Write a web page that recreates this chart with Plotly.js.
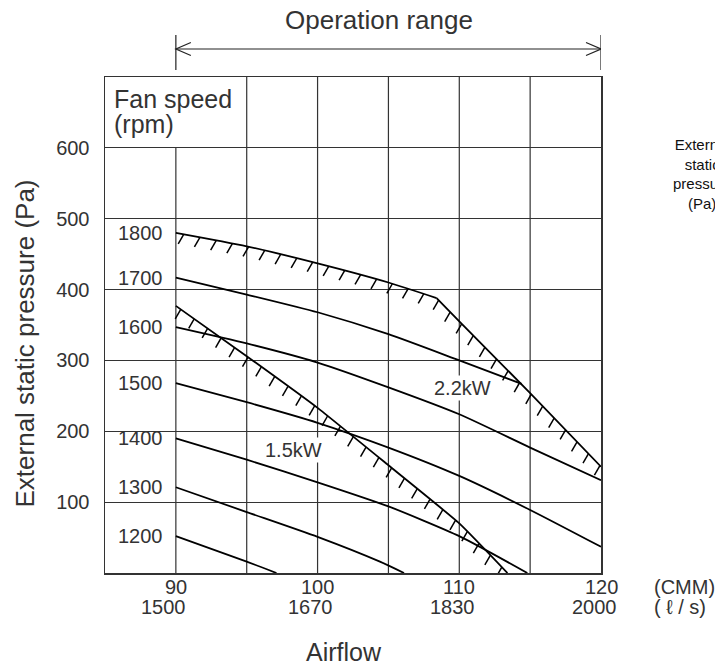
<!DOCTYPE html>
<html>
<head>
<meta charset="utf-8">
<script src="https://cdn.plot.ly/plotly-3.0.1.min.js"></script>
<style>html,body{margin:0;padding:0;background:#fff;}#chart{width:715px;height:666px;}</style>
</head>
<body>
<div id="chart"></div>
<script>
// ---- data ----
const airflowCMM = [90, 100, 110, 120];
const airflowLps = [1500, 1670, 1830, 2000];
const pressureTicks = [100, 200, 300, 400, 500, 600];
const gridAirflow = [90, 95, 100, 105, 110, 115];
const fanSpeeds = ['1800', '1700', '1600', '1500', '1400', '1300', '1200'];

const rpm1800X = [90, 95, 100, 105, 108.4];
const rpm1800Y = [480, 461, 437, 410, 388];
const rpm1700X = [90, 95, 100, 105, 110, 114.4];
const rpm1700Y = [417, 393, 368, 337, 300, 267];
const rpm1600X = [90, 95, 100, 105, 110, 115, 120];
const rpm1600Y = [347, 324, 297, 262, 224, 177, 131];
const rpm1500X = [90, 95, 100, 105, 110, 115, 120];
const rpm1500Y = [268, 241, 212, 177, 137, 89, 37];
const rpm1400X = [90, 95, 100, 105, 110, 114.8];
const rpm1400Y = [190, 160, 128, 94, 52, 0];
const rpm1300X = [90, 95, 100, 104.4, 106.1];
const rpm1300Y = [121, 86, 51, 16, 0];
const rpm1200X = [90, 95, 97.1];
const rpm1200Y = [52, 16, 0];

const limit22kWX = [108.4, 110, 115, 120];
const limit22kWY = [388, 355, 254, 150];
const limit15kWX = [90, 95, 100, 105, 110, 113.4];
const limit15kWY = [377, 306, 233, 152, 70, 0];

// ---- layout geometry ----
const FIG_W = 715, FIG_H = 666;
const M = {l: 105, r: 114, t: 77, b: 93};
const XR = [85, 120], YR = [0, 700];
const PW = FIG_W - M.l - M.r, PH = FIG_H - M.t - M.b;

function toPx(x, y) {
  return [M.l + (x - XR[0]) / (XR[1] - XR[0]) * PW,
          M.t + (1 - (y - YR[0]) / (YR[1] - YR[0])) * PH];
}
function toData(px, py) {
  return [XR[0] + (px - M.l) / PW * (XR[1] - XR[0]),
          YR[0] + (1 - (py - M.t) / PH) * (YR[1] - YR[0])];
}

// hatch marks along a polyline (screen space), pointing down-left
function hatch(xs, ys, spacing, len, start) {
  const pts = xs.map((x, i) => toPx(x, ys[i]));
  const dir = [-0.5, 0.866];
  const hx = [], hy = [];
  let next = start, acc = 0;
  for (let i = 0; i < pts.length - 1; i++) {
    const a = pts[i], b = pts[i + 1];
    const d = Math.hypot(b[0] - a[0], b[1] - a[1]);
    while (next <= acc + d) {
      const t = (next - acc) / d;
      const p = [a[0] + t * (b[0] - a[0]), a[1] + t * (b[1] - a[1])];
      const q = [p[0] + len * dir[0], p[1] + len * dir[1]];
      const pd = toData(p[0], p[1]), qd = toData(q[0], q[1]);
      hx.push(pd[0], qd[0], null);
      hy.push(pd[1], qd[1], null);
      next += spacing;
    }
    acc += d;
  }
  return {x: hx, y: hy};
}

const curves = [
  [rpm1800X, rpm1800Y], [rpm1700X, rpm1700Y], [rpm1600X, rpm1600Y],
  [rpm1500X, rpm1500Y], [rpm1400X, rpm1400Y], [rpm1300X, rpm1300Y], [rpm1200X, rpm1200Y]
];

const traces = [];
curves.forEach((c, i) => {
  traces.push({type: 'scatter', mode: 'lines', x: c[0], y: c[1], name: fanSpeeds[i] + ' rpm',
    line: {color: '#000', width: 1.8, shape: 'spline', smoothing: 0.6}, showlegend: false, hoverinfo: 'skip'});
});
traces.push({type: 'scatter', mode: 'lines', x: limit22kWX, y: limit22kWY, name: '2.2kW',
  line: {color: '#000', width: 1.8, shape: 'spline', smoothing: 0.4}, showlegend: false, hoverinfo: 'skip'});
traces.push({type: 'scatter', mode: 'lines', x: limit15kWX, y: limit15kWY, name: '1.5kW',
  line: {color: '#000', width: 1.8, shape: 'spline', smoothing: 0.4}, showlegend: false, hoverinfo: 'skip'});

const topX = rpm1800X.concat(limit22kWX.slice(1));
const topY = rpm1800Y.concat(limit22kWY.slice(1));
const h1 = hatch(topX, topY, 16.5, 11, 8);
const h2 = hatch(limit15kWX, limit15kWY, 16.5, 11, 6);
traces.push({type: 'scatter', mode: 'lines', x: h1.x.concat(h2.x), y: h1.y.concat(h2.y),
  line: {color: '#000', width: 1.5}, showlegend: false, hoverinfo: 'skip', connectgaps: false});

// ---- shapes ----
const shapes = gridAirflow.map(g => ({
  type: 'line', xref: 'x', yref: 'y', x0: g, x1: g, y0: 0, y1: g === 90 ? 600 : 700,
  line: {color: '#333', width: 1.2}, layer: 'below'
}));
const arrowY = 1.0565;
shapes.push({type: 'line', xref: 'x', yref: 'paper', x0: 90, x1: 120, y0: arrowY, y1: arrowY, line: {color: '#222', width: 1.2}});
[90, 120].forEach(v => shapes.push({type: 'line', xref: 'x', yref: 'paper', x0: v, x1: v, y0: 1.0141, y1: 1.0847, line: {color: '#222', width: 1.2}}));
shapes.push({type: 'path', xref: 'x', yref: 'paper', xsizemode: 'pixel', ysizemode: 'pixel', xanchor: 90, yanchor: arrowY,
  path: 'M15,6.5L0,0L15,-6.5', line: {color: '#222', width: 1.2}});
shapes.push({type: 'path', xref: 'x', yref: 'paper', xsizemode: 'pixel', ysizemode: 'pixel', xanchor: 120, yanchor: arrowY,
  path: 'M-15,6.5L0,0L-15,-6.5', line: {color: '#222', width: 1.2}});

// ---- annotations ----
const TXT = '#333';
const FONT = 'Liberation Sans, Arial, sans-serif';
const annotations = [];
function ann(o) {
  annotations.push(Object.assign({showarrow: false, xanchor: 'center', yanchor: 'middle'}, o));
}
curves.forEach((c, i) => ann({
  x: 87.5, y: c[1][0], xref: 'x', yref: 'y', text: fanSpeeds[i],
  font: {size: 20, color: TXT, family: FONT}
}));
ann({x: 110.23, y: 261, xref: 'x', yref: 'y', text: '2.2kW', bgcolor: '#fff', font: {size: 20, color: TXT, family: FONT}});
ann({x: 98.3, y: 173, xref: 'x', yref: 'y', text: '1.5kW', bgcolor: '#fff', font: {size: 20, color: TXT, family: FONT}});
ann({x: 85, y: 669, xref: 'x', yref: 'y', xanchor: 'left', xshift: 7, text: 'Fan speed', font: {size: 25, color: TXT, family: FONT}});
ann({x: 85, y: 634, xref: 'x', yref: 'y', xanchor: 'left', xshift: 7, text: '(rpm)', font: {size: 25, color: TXT, family: FONT}});
ann({x: 104.33, y: 1.1149, xref: 'x', yref: 'paper', text: 'Operation range', font: {size: 26, color: TXT, family: FONT}});
ann({x: -0.1613, y: 0.4627, xref: 'paper', yref: 'paper', text: 'External static pressure (Pa)', textangle: -90,
  font: {size: 26, color: TXT, family: FONT}});
ann({x: 0.4819, y: -0.1593, xref: 'paper', yref: 'paper', text: 'Airflow', font: {size: 25, color: TXT, family: FONT}});
ann({x: 1.2036, y: 0.8054, xref: 'paper', yref: 'paper', text: 'External<br>static<br>pressure<br>(Pa)', align: 'center',
  font: {size: 15, color: '#111', family: 'Liberation Sans Narrow, Arial Narrow, Liberation Sans, sans-serif'}});
ann({x: 1.1028, y: -0.0282, xref: 'paper', yref: 'paper', xanchor: 'left', text: '(CMM)', font: {size: 20, color: TXT, family: FONT}});
ann({x: 1.1028, y: -0.0685, xref: 'paper', yref: 'paper', xanchor: 'left', text: '( ℓ / s)', font: {size: 20, color: TXT, family: FONT}});
airflowCMM.forEach((v, i) => ann({
  x: v, y: -0.0282, xref: 'x', yref: 'paper', text: String(v), font: {size: 20, color: TXT, family: FONT}
}));
airflowLps.forEach((v, i) => ann({
  x: airflowCMM[i], y: -0.0685, xref: 'x', yref: 'paper', xanchor: 'right',
  xshift: String(airflowCMM[i]).length * 0.556 * 20 / 2 + 1,
  text: String(v), font: {size: 20, color: TXT, family: FONT}
}));

const layout = {
  width: FIG_W, height: FIG_H,
  margin: M,
  paper_bgcolor: '#fff', plot_bgcolor: '#fff',
  showlegend: false,
  xaxis: {range: XR, showgrid: false, zeroline: false, showline: true, mirror: true,
    linecolor: '#333', linewidth: 1.5, tickmode: 'array', tickvals: airflowCMM, showticklabels: false,
    ticks: '', fixedrange: true},
  yaxis: {range: YR, showgrid: true, gridcolor: '#333', gridwidth: 1.2, zeroline: false, showline: true, mirror: true,
    linecolor: '#333', linewidth: 1.5, tickmode: 'array', tickvals: pressureTicks, ticks: '',
    ticklabelstandoff: 10, tickfont: {size: 20, color: TXT, family: FONT}, fixedrange: true},
  shapes: shapes,
  annotations: annotations,
  font: {family: FONT, color: TXT}
};

Plotly.newPlot('chart', traces, layout, {displayModeBar: false, staticPlot: true});
</script>
</body>
</html>
